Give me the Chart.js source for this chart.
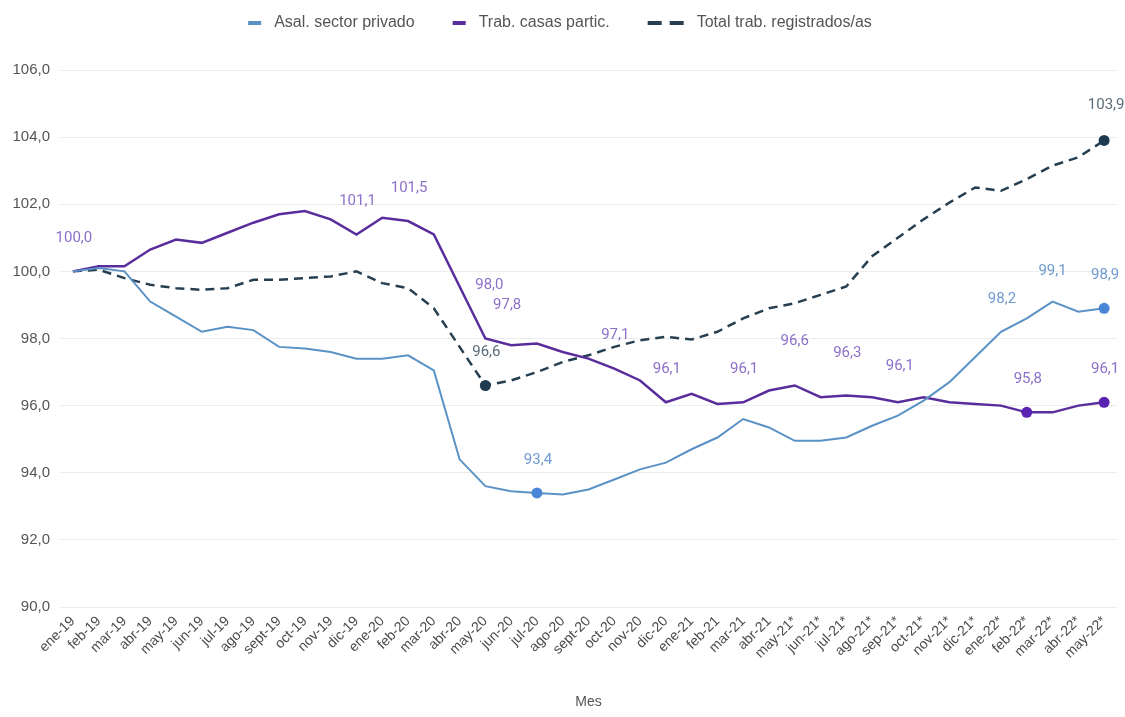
<!DOCTYPE html>
<html>
<head>
<meta charset="utf-8">
<script src="https://cdn.jsdelivr.net/npm/chart.js@4"></script>
<style>
html,body{margin:0;padding:0;background:#fff;}
#wrap{width:1125px;height:717px;}
</style>
</head>
<body>
<div id="wrap"><canvas id="c" width="1125" height="717"></canvas></div>
<script>
// ---- Data ----
const months = ['ene-19','feb-19','mar-19','abr-19','may-19','jun-19','jul-19','ago-19','sept-19','oct-19','nov-19','dic-19',
  'ene-20','feb-20','mar-20','abr-20','may-20','jun-20','jul-20','ago-20','sept-20','oct-20','nov-20','dic-20',
  'ene-21','feb-21','mar-21','abr-21','may-21*','jun-21*','jul-21*','ago-21*','sep-21*','oct-21*','nov-21*','dic-21*',
  'ene-22*','feb-22*','mar-22*','abr-22*','may-22*'];

const asalPrivado = [100.0,100.1,100.0,99.1,98.65,98.2,98.35,98.25,97.75,97.7,97.6,97.4,
  97.4,97.5,97.05,94.4,93.6,93.45,93.4,93.35,93.5,93.8,94.1,94.3,
  94.7,95.05,95.6,95.35,94.95,94.95,95.05,95.4,95.7,96.15,96.7,97.45,
  98.2,98.6,99.1,98.8,98.9];

const casasPartic = [100.0,100.15,100.15,100.65,100.95,100.85,101.15,101.45,101.7,101.8,101.55,101.1,
  101.6,101.5,101.1,99.55,98.0,97.8,97.85,97.6,97.4,97.1,96.75,96.1,
  96.35,96.05,96.1,96.45,96.6,96.25,96.3,96.25,96.1,96.25,96.1,96.05,
  96.0,95.8,95.8,96.0,96.1];

const totalRegistrados = [100.0,100.05,99.8,99.6,99.5,99.45,99.5,99.75,99.75,99.8,99.85,100.0,
  99.65,99.5,98.9,97.75,96.6,96.75,97.0,97.3,97.5,97.75,97.95,98.05,
  97.97,98.2,98.6,98.9,99.05,99.3,99.55,100.45,101.0,101.55,102.05,102.5,
  102.4,102.75,103.15,103.4,103.9];

const seriesNames = ['Asal. sector privado','Trab. casas partic.','Total trab. registrados/as'];
const yMin = 90, yMax = 106, yStep = 2;
const axisTitle = 'Mes';

// indices with a marker dot, per series
const markedPoints = [[18, 40], [37, 40], [16, 40]];
// value labels: [series, index]
const labeledPoints = [
  [1,0],[1,11],[1,13],[1,16],[1,17],[1,21],[1,23],[1,26],[1,28],[1,30],[1,32],[1,37],[1,40],
  [0,18],[0,36],[0,38],[0,40],
  [2,16],[2,40]
];

// ---- Styles ----
const lineColors = ['#5b92c6', '#5a2d9c', '#253f50'];
const dotColors = ['#4a86d8', '#5a22b0', '#1e3a50'];
const labelColors = ['#6f9bd0', '#8c70c9', '#5b6c78'];
const labelOffsets = { '1,16': [4,-53], '1,17': [-4,-40], '1,28': [0,-44], '1,30': [1,-42], '1,32': [2,-36], '2,40': [2,-35], '0,38': [0,-30] };

const fmt = v => v.toFixed(1).replace('.', ',');

const legendPlugin = {
  id: 'customLegend',
  afterDraw(chart) {
    const ctx = chart.ctx;
    ctx.save();
    ctx.font = '16px "Liberation Sans", Arial, sans-serif';
    ctx.textBaseline = 'middle';
    const items = chart.data.datasets.map((ds, i) => ({
      text: ds.label, color: ds.borderColor, dashed: !!(ds.borderDash && ds.borderDash.length),
      sw: ds.borderDash && ds.borderDash.length ? 36 : 13
    }));
    const gapSwText = 13, gapItem = 38;
    let total = 0;
    items.forEach((it, i) => { it.tw = ctx.measureText(it.text).width; total += it.sw + gapSwText + it.tw + (i < items.length - 1 ? gapItem : 0); });
    let x = 560 - total / 2;
    const y = 23;
    items.forEach(it => {
      ctx.strokeStyle = it.color;
      ctx.lineWidth = 4;
      ctx.lineCap = 'butt';
      ctx.beginPath();
      if (it.dashed) {
        ctx.moveTo(x, y); ctx.lineTo(x + 14, y);
        ctx.moveTo(x + 22, y); ctx.lineTo(x + 36, y);
      } else {
        ctx.moveTo(x, y); ctx.lineTo(x + it.sw, y);
      }
      ctx.stroke();
      x += it.sw + gapSwText;
      ctx.fillStyle = '#555';
      ctx.fillText(it.text, x, y);
      x += it.tw + gapItem;
    });
    ctx.restore();
  }
};

const labelPlugin = {
  id: 'valueLabels',
  afterDatasetsDraw(chart) {
    const ctx = chart.ctx;
    ctx.save();
    ctx.font = '15px Roboto, "Liberation Sans", sans-serif';
    ctx.textAlign = 'center';
    ctx.textBaseline = 'middle';
    labeledPoints.forEach(([s, i]) => {
      const el = chart.getDatasetMeta(s).data[i];
      const v = chart.data.datasets[s].data[i];
      const off = labelOffsets[s + ',' + i] || [1, -33];
      ctx.fillStyle = labelColors[s];
      ctx.fillText(fmt(v), el.x + off[0], el.y + off[1]);
    });
    ctx.restore();
  }
};

const mkDs = (label, data, s, extra) => Object.assign({
  label, data,
  borderColor: lineColors[s],
  backgroundColor: dotColors[s],
  borderWidth: 2.5,
  tension: 0,
  fill: false,
  pointRadius: c => markedPoints[s].includes(c.dataIndex) ? 5.5 : 0,
  pointHoverRadius: 0,
  pointBorderWidth: 0,
  pointBackgroundColor: dotColors[s]
}, extra || {});

new Chart(document.getElementById('c'), {
  type: 'line',
  data: {
    labels: months,
    datasets: [
      mkDs(seriesNames[0], asalPrivado, 0, { borderWidth: 2 }),
      mkDs(seriesNames[1], casasPartic, 1),
      mkDs(seriesNames[2], totalRegistrados, 2, { borderDash: [9, 6] })
    ]
  },
  options: {
    responsive: false,
    animation: false,
    devicePixelRatio: 1,
    layout: { padding: { top: 70, right: 8, left: 0, bottom: 4 } },
    plugins: { legend: { display: false }, tooltip: { enabled: false } },
    scales: {
      x: {
        offset: true,
        grid: { display: false, drawTicks: false },
        border: { display: false },
        ticks: { autoSkip: false, maxRotation: 45, minRotation: 45, padding: 6, color: '#4a4a4a',
                 font: { size: 14, family: '"Liberation Sans", Arial, sans-serif' } },
        title: { display: true, text: axisTitle, color: '#555', padding: { top: 8, bottom: 2 },
                 font: { size: 14, family: '"Liberation Sans", Arial, sans-serif' } },
        afterFit: s => { s.height = 106; }
      },
      y: {
        min: yMin, max: yMax,
        grid: { color: '#ececec', drawTicks: false, lineWidth: 1 },
        border: { display: false },
        ticks: { stepSize: yStep, padding: 10, color: '#555', callback: v => fmt(v),
                 font: { size: 15, family: '"Liberation Sans", Arial, sans-serif' } },
        afterFit: s => { s.width = 60; }
      }
    }
  },
  plugins: [legendPlugin, labelPlugin]
});
</script>
</body>
</html>
